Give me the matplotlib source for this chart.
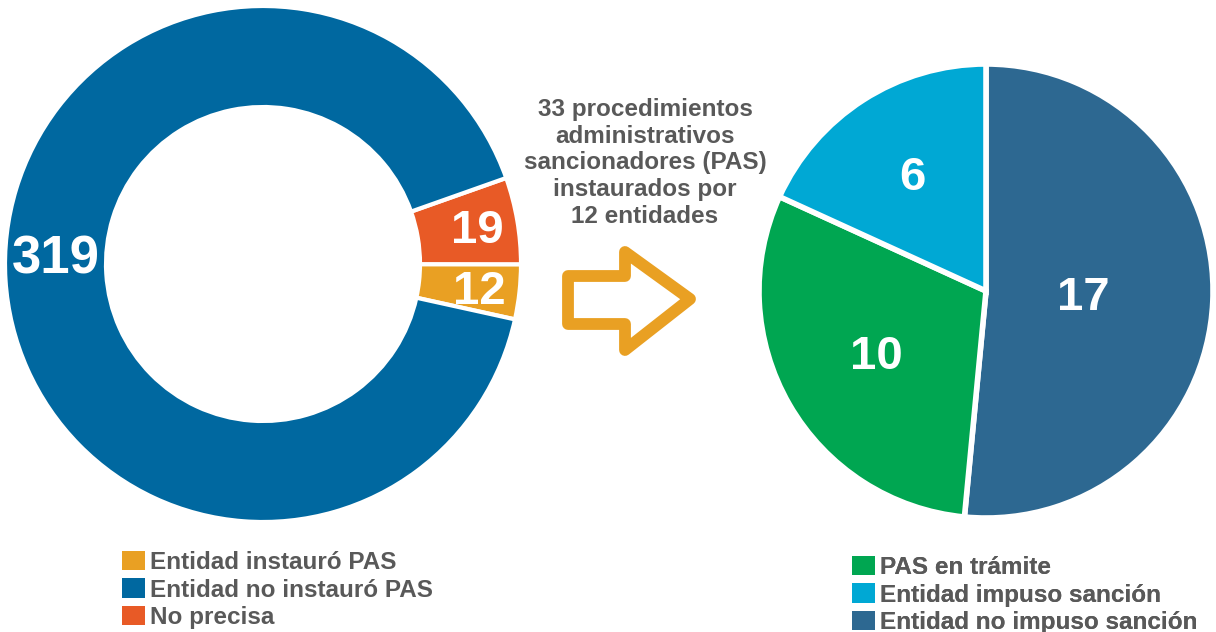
import math
import matplotlib as mpl
import matplotlib.pyplot as plt
from matplotlib.patches import Polygon

# data
donut_labels = ['Entidad instauró PAS', 'Entidad no instauró PAS', 'No precisa']
donut_values = [12, 319, 19]
pie_labels = ['PAS en trámite', 'Entidad impuso sanción', 'Entidad no impuso sanción']
pie_values = [10, 6, 17]
center_text = ('33 procedimientos\nadministrativos\nsancionadores (PAS)\n'
               'instaurados por\n12 entidades')

# style settings
plt.rcParams['font.family'] = ['Liberation Sans', 'DejaVu Sans']
plt.rcParams['font.weight'] = 'bold'
W, H = 1216, 632
grey = '#595959'
donut_colors = ['#E9A023', '#0068A0', '#E85A26']
pie_colors = ['#00A651', '#00A8D4', '#2D6891']

fig = plt.figure(figsize=(W / 100, H / 100), dpi=100)
ax = fig.add_axes([0, 0, 1, 1])

def py(y):
    # pixel row (from top) -> data y
    return H - y

#$ donut (left)
d_order = [0, 2, 1]            # counterclockwise from the right
d_c, d_r, d_w = (263, py(264)), 258, 101
d_wedges, _ = ax.pie([donut_values[i] for i in d_order],
                     colors=[donut_colors[i] for i in d_order],
                     center=d_c, radius=d_r, startangle=-12.4,
                     wedgeprops=dict(width=d_w, edgecolor='white', linewidth=3))
d_shift = [0, 0, -6]           # angle nudge for label
for k, w in enumerate(d_wedges):
    ang = math.radians((w.theta1 + w.theta2) / 2 + d_shift[k])
    r = d_r - d_w / 2 + (10 if k < 2 else 0)
    size = 34 if k < 2 else 38
    ax.text(d_c[0] + r * math.cos(ang), d_c[1] + r * math.sin(ang) - 4,
            str(donut_values[d_order[k]]), color='white', fontsize=size,
            fontweight='bold', ha='center', va='center')

#$ pie (right)
p_order = [2, 0, 1]            # clockwise from the top
p_c, p_r = (986, py(291)), 227
p_wedges, _ = ax.pie([pie_values[i] for i in p_order],
                     colors=[pie_colors[i] for i in p_order],
                     center=p_c, radius=p_r, startangle=90, counterclock=False,
                     explode=[0.02, 0, 0],
                     wedgeprops=dict(edgecolor='white', linewidth=4))
p_dist = [0.43, 0.56, 0.6]
for k, w in enumerate(p_wedges):
    ang = math.radians((w.theta1 + w.theta2) / 2)
    r = p_r * p_dist[k]
    ax.text(p_c[0] + r * math.cos(ang), p_c[1] + r * math.sin(ang) - 2,
            str(pie_values[p_order[k]]), color='white', fontsize=34,
            fontweight='bold', ha='center', va='center')

# pie() resets the limits, so set them afterwards
ax.set_xlim(0, W)
ax.set_ylim(0, H)
ax.set_aspect('equal')
ax.axis('off')

#$ middle text + arrow
ax.text(645, py(163), center_text, ha='center', va='center', color=grey,
        fontsize=17.5, fontweight='bold', linespacing=1.2)
arrow = [(568, 276), (625, 276), (625, 252), (690, 299),
         (625, 350), (625, 324), (568, 324)]
ax.add_patch(Polygon([(x, py(y)) for x, y in arrow], closed=True,
                     fill=False, edgecolor='#E9A023', linewidth=8.5,
                     joinstyle='round'))

#$ legends
d_handles = [d_wedges[d_order.index(i)] for i in range(3)]
p_handles = [p_wedges[p_order.index(i)] for i in range(3)]
for handles, labels, anchor in [(d_handles, donut_labels, (122, py(551))),
                                (p_handles, pie_labels, (852, py(556)))]:
    leg = ax.legend(handles, labels, loc='upper left', bbox_to_anchor=anchor,
                    bbox_transform=ax.transData, frameon=False, borderpad=0,
                    borderaxespad=0, handlelength=0.95, handleheight=0.85,
                    handletextpad=0.2, labelspacing=0.18,
                    prop=dict(family='Liberation Sans', weight='bold', size=17.5))
    for t in leg.get_texts():
        t.set_color(grey)
    for h in leg.legend_handles:
        h.set_edgecolor('none')
    ax.add_artist(leg)

plt.savefig('out.png', dpi=100)
plt.close()
